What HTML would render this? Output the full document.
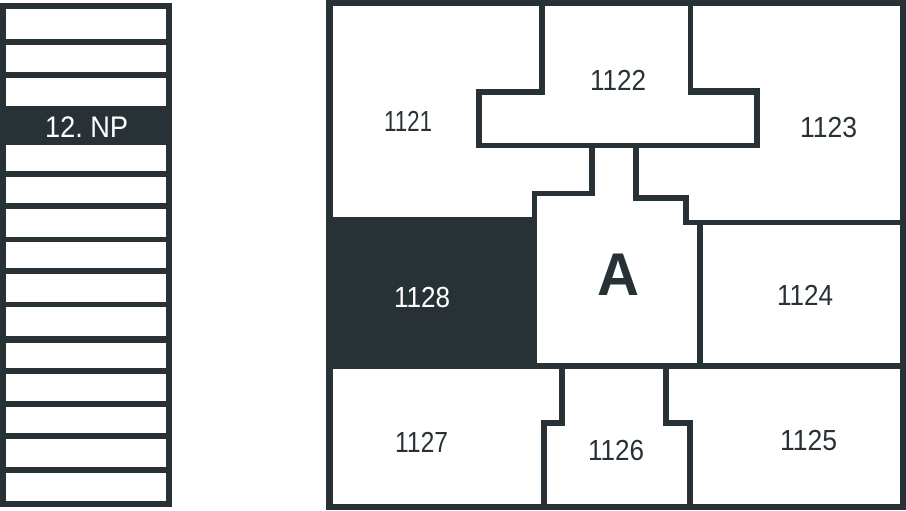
<!DOCTYPE html>
<html>
<head>
<meta charset="utf-8">
<style>
  html,body{margin:0;padding:0;background:#fff;}
  svg{display:block;}
  text{font-family:"Liberation Sans",sans-serif;}
</style>
</head>
<body>
<svg width="906" height="511" viewBox="0 0 906 511" xmlns="http://www.w3.org/2000/svg">
  <rect x="0" y="0" width="906" height="511" fill="#ffffff"/>

  <!-- Left floor stack -->
  <rect x="0" y="3" width="172" height="504" fill="#283136"/>
  <g fill="#ffffff">
    <rect x="6" y="9" width="160" height="30"/>
    <rect x="6" y="45" width="160" height="27"/>
    <rect x="6" y="78" width="160" height="28"/>
    <rect x="6" y="145" width="160" height="26"/>
    <rect x="6" y="177" width="160" height="26"/>
    <rect x="6" y="209" width="160" height="28"/>
    <rect x="6" y="242" width="160" height="26"/>
    <rect x="6" y="274" width="160" height="28"/>
    <rect x="6" y="307" width="160" height="29"/>
    <rect x="6" y="343" width="160" height="25"/>
    <rect x="6" y="374" width="160" height="27"/>
    <rect x="6" y="407" width="160" height="26"/>
    <rect x="6" y="439" width="160" height="28"/>
    <rect x="6" y="473" width="160" height="28"/>
  </g>
  <text x="45" y="137" font-size="30" fill="#ffffff" textLength="83" lengthAdjust="spacingAndGlyphs">12. NP</text>

  <!-- Right floor plan -->
  <rect x="326" y="0" width="580" height="510" fill="#283136"/>
  <g fill="#ffffff">
    <!-- 1121 -->
    <polygon points="333,6 539,6 539,89 476,89 476,148 589,148 589,191 532,191 532,217 333,217"/>
    <!-- 1122 -->
    <polygon points="545,6 688,6 688,95 754,95 754,143 482,143 482,95 545,95"/>
    <!-- 1123 -->
    <polygon points="693,6 900,6 900,220 689,220 689,195 639,195 639,148 760,148 760,88 693,88"/>
    <!-- A -->
    <polygon points="595,148 633,148 633,201 683,201 683,225 697,225 697,363 537,363 537,196 595,196"/>
    <!-- 1124 -->
    <rect x="703" y="225" width="197" height="138"/>
    <!-- 1127 -->
    <polygon points="333,369 559,369 559,420 541,420 541,504 333,504"/>
    <!-- 1126 -->
    <polygon points="565,369 663,369 663,426 687,426 687,504 547,504 547,426 565,426"/>
    <!-- 1125 -->
    <polygon points="669,369 900,369 900,504 693,504 693,420 669,420"/>
  </g>

  <g font-size="29" fill="#283136">
    <text x="384" y="131" textLength="48" lengthAdjust="spacingAndGlyphs">1121</text>
    <text x="590" y="90" textLength="56" lengthAdjust="spacingAndGlyphs">1122</text>
    <text x="800" y="137" textLength="57" lengthAdjust="spacingAndGlyphs">1123</text>
    <text x="777" y="305" textLength="56" lengthAdjust="spacingAndGlyphs">1124</text>
    <text x="780" y="450" textLength="57" lengthAdjust="spacingAndGlyphs">1125</text>
    <text x="588" y="460" textLength="56" lengthAdjust="spacingAndGlyphs">1126</text>
    <text x="395" y="452" textLength="53" lengthAdjust="spacingAndGlyphs">1127</text>
  </g>
  <text x="394" y="307" font-size="29" fill="#ffffff" textLength="56" lengthAdjust="spacingAndGlyphs">1128</text>
  <text x="597" y="295" font-size="60" font-weight="bold" fill="#283136" textLength="42" lengthAdjust="spacingAndGlyphs">A</text>
</svg>
</body>
</html>
